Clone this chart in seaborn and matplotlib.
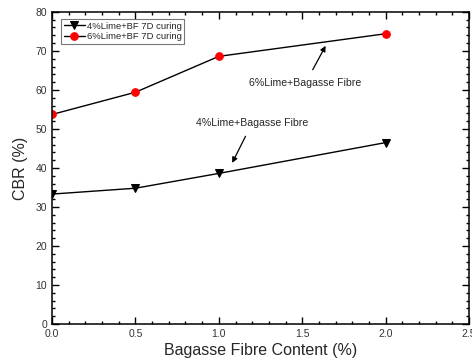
import matplotlib
matplotlib.use('Agg')
import matplotlib.pyplot as plt
import seaborn as sns
import pandas as pd
from matplotlib.ticker import MultipleLocator

sns.set_style('ticks')
plt.rcParams['font.family'] = ['Liberation Sans', 'DejaVu Sans']
plt.rcParams['axes.unicode_minus'] = False

# data
fibre = [0.0, 0.5, 1.0, 2.0]
cbr_4 = [33.3, 34.8, 38.6, 46.5]
cbr_6 = [53.7, 59.4, 68.6, 74.4]
label_4 = '4%Lime+BF 7D curing'
label_6 = '6%Lime+BF 7D curing'

df = pd.DataFrame({'fibre': fibre, 'cbr4': cbr_4, 'cbr6': cbr_6})

fig = plt.figure(figsize=(4.72, 3.6), dpi=100)
ax = fig.add_axes([0.110, 0.100, 0.884, 0.867])

sns.lineplot(data=df, x='fibre', y='cbr4', ax=ax, color='black', lw=1,
             marker='v', markersize=6, markerfacecolor='black',
             markeredgecolor='black', label=label_4)
sns.lineplot(data=df, x='fibre', y='cbr6', ax=ax, color='black', lw=1,
             marker='o', markersize=5.5, markerfacecolor='red',
             markeredgecolor='red', label=label_6)

ax.set_xlim(0, 2.5)
ax.set_ylim(0, 80)
ax.xaxis.set_major_locator(MultipleLocator(0.5))
ax.xaxis.set_minor_locator(MultipleLocator(0.1))
ax.yaxis.set_major_locator(MultipleLocator(10))
ax.yaxis.set_minor_locator(MultipleLocator(2))
ax.tick_params(which='both', direction='in', top=True, right=True,
               width=1, labelsize=7.5, colors='black', labelcolor='#333333')
ax.tick_params(which='major', length=5)
ax.tick_params(which='minor', length=2.5)
for s in ax.spines.values():
    s.set_linewidth(1.1)
    s.set_color('black')

ax.set_xlabel('Bagasse Fibre Content (%)', fontsize=11.5, labelpad=3)
ax.set_ylabel('CBR (%)', fontsize=11.5, labelpad=5)

ax.annotate('6%Lime+Bagasse Fibre', xy=(1.64, 71.3), xytext=(1.52, 61.8),
            ha='center', va='center', fontsize=7.6,
            arrowprops=dict(arrowstyle='-|>', color='black', lw=0.9,
                            shrinkA=4, shrinkB=0, mutation_scale=8))
ax.annotate('4%Lime+Bagasse Fibre', xy=(1.08, 41.3), xytext=(1.20, 51.5),
            ha='center', va='center', fontsize=7.6,
            arrowprops=dict(arrowstyle='-|>', color='black', lw=0.9,
                            shrinkA=4, shrinkB=0, mutation_scale=8))

leg = ax.legend(loc='upper left', bbox_to_anchor=(0.022, 0.978), fontsize=6.8,
                frameon=True, fancybox=False, handlelength=2.2,
                borderpad=0.3, labelspacing=0.2, handletextpad=0.2,
                borderaxespad=0)
leg.get_frame().set_edgecolor('#555555')
leg.get_frame().set_linewidth(0.8)

fig.savefig('out.png', dpi=100)
